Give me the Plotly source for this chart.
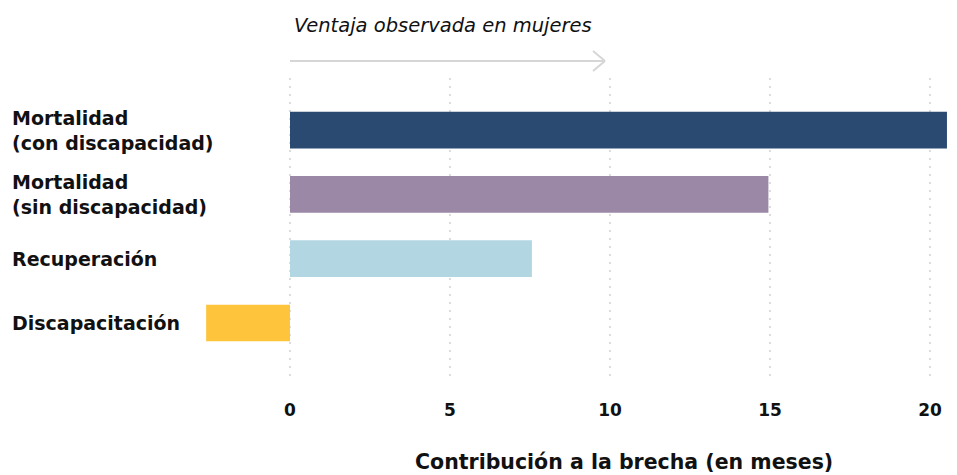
import plotly.graph_objects as go

categories = ["Mortalidad<br>(con discapacidad)", "Mortalidad<br>(sin discapacidad)", "Recuperación", "Discapacitación"]
values = [20.53, 14.95, 7.56, -2.62]
colors = ["#2b4a72", "#9a88a6", "#b2d7e2", "#fdc43c"]
tick_vals = [0, 5, 10, 15, 20]
tick_text = ["0", "5", "10", "15", "20"]
x_title = "Contribución a la brecha (en meses)"
arrow_text = "Ventaja observada en mujeres"

FONT = "DejaVu Sans"
OFF = 8  # default page body margin
W, H = 957 - OFF, 475 - OFF
top_m, bot_m = 78 - OFF, 98
plot_h = H - top_m - bot_m

def px(x):
    return x - OFF

def py_to_paper(py):
    return (H - bot_m - (py - OFF)) / plot_h

ypos = list(range(len(categories)))

fig = go.Figure()
fig.add_trace(go.Bar(
    x=values, y=ypos, orientation="h",
    marker=dict(color=colors, line=dict(width=0)),
    width=0.57, hoverinfo="skip",
))

zero_px = px(290)
x0 = -zero_px / 32
x1 = (W - zero_px) / 32

fig.update_layout(
    width=W, height=H,
    margin=dict(l=0, r=0, t=top_m, b=bot_m),
    paper_bgcolor="white", plot_bgcolor="white",
    showlegend=False,
    font=dict(family=FONT, color="#111111"),
    xaxis=dict(
        range=[x0, x1], tickvals=tick_vals, ticktext=tick_text,
        showgrid=True, gridcolor="#dcdcdc", griddash="2px,6px", gridwidth=2,
        zeroline=False, showline=False, ticks="",
        tickfont=dict(family=FONT, size=17, color="#111111", weight="bold"),
        ticklabelstandoff=21,
    ),
    yaxis=dict(
        range=[3.84, -0.81], showticklabels=False, showgrid=False,
        zeroline=False, showline=False, ticks="",
    ),
)

for i, c in enumerate(categories):
    fig.add_annotation(
        x=px(10) / W, xref="paper", xanchor="left",
        y=i, yref="y", yanchor="middle",
        text="<b>" + c + "</b>", showarrow=False, align="left",
        font=dict(family=FONT, size=19, color="#111111"),
    )

fig.add_annotation(
    x=10.45, xref="x", xanchor="center",
    y=py_to_paper(462), yref="paper", yanchor="middle",
    text="<b>" + x_title + "</b>", showarrow=False,
    font=dict(family=FONT, size=20.5, color="#111111"),
)

fig.add_annotation(
    x=0.05, xref="x", xanchor="left",
    y=py_to_paper(26), yref="paper", yanchor="middle",
    text="<i>" + arrow_text + "</i>", showarrow=False,
    font=dict(family=FONT, size=19.5, color="#111111"),
)

ay = py_to_paper(61)
tip = (605 - 290) / 32
back = (593 - 290) / 32
arrow_col = "#d6d6d6"
fig.add_shape(type="line", xref="x", yref="paper", x0=0, x1=tip, y0=ay, y1=ay,
              line=dict(color=arrow_col, width=2))
fig.add_shape(type="line", xref="x", yref="paper", x0=back, x1=tip,
              y0=py_to_paper(51), y1=ay, line=dict(color=arrow_col, width=2))
fig.add_shape(type="line", xref="x", yref="paper", x0=back, x1=tip,
              y0=py_to_paper(71), y1=ay, line=dict(color=arrow_col, width=2))

fig.write_html("out.html")
